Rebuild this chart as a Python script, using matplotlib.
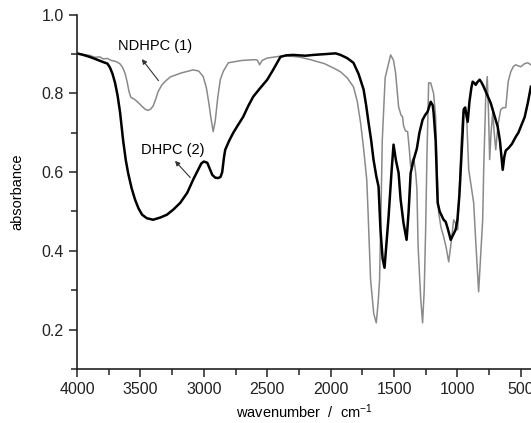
import numpy as np
import matplotlib
matplotlib.use("Agg")
import matplotlib.pyplot as plt
from matplotlib.ticker import MultipleLocator

plt.rcParams['font.family'] = ['Liberation Sans', 'DejaVu Sans']
plt.rcParams['mathtext.default'] = 'regular'

# NDHPC (1), grey trace
ndhpc_wn = [4000, 3950, 3900, 3860, 3820, 3795, 3760, 3730, 3700, 3680, 3660, 3640, 3620,
            3605, 3590, 3575, 3550, 3520, 3490, 3463, 3440, 3420, 3400, 3380, 3360, 3330,
            3300, 3265, 3180, 3120, 3084, 3040, 3005, 2980, 2960, 2945, 2926, 2910, 2890,
            2870, 2847, 2807, 2700, 2600, 2578, 2560, 2540, 2500, 2373, 2250, 2160, 2050,
            1960, 1922, 1870, 1820, 1790, 1764, 1740, 1715, 1705, 1685, 1660, 1640, 1625,
            1614, 1600, 1593, 1570, 1527, 1505, 1488, 1464, 1445, 1433, 1425, 1410, 1393,
            1380, 1369, 1355, 1345, 1330, 1320, 1310, 1290, 1275, 1262, 1251, 1240, 1227,
            1211, 1188, 1172, 1160, 1148, 1130, 1109, 1090, 1069, 1050, 1030, 1015, 998,
            985, 970, 959, 945, 935, 925, 911, 890, 872, 855, 833, 815, 801, 793, 777,
            765, 755, 746, 735, 722, 710, 698, 680, 659, 640, 619, 600, 580, 560, 540,
            520, 500, 470, 445, 421]
ndhpc_abs = [0.902, 0.899, 0.897, 0.892, 0.893, 0.888, 0.889, 0.884, 0.882, 0.879, 0.875, 0.866, 0.850,
             0.830, 0.805, 0.790, 0.786, 0.778, 0.768, 0.760, 0.757, 0.760, 0.768, 0.785, 0.805, 0.822,
             0.832, 0.842, 0.852, 0.857, 0.860, 0.857, 0.843, 0.815, 0.775, 0.740, 0.703, 0.730, 0.790,
             0.835, 0.856, 0.878, 0.884, 0.886, 0.885, 0.873, 0.884, 0.890, 0.896, 0.893, 0.886, 0.876,
             0.862, 0.855, 0.840, 0.817, 0.780, 0.726, 0.660, 0.580, 0.500, 0.327, 0.240, 0.217, 0.270,
             0.327, 0.550, 0.680, 0.840, 0.898, 0.885, 0.853, 0.766, 0.745, 0.741, 0.718, 0.705, 0.703,
             0.660, 0.614, 0.630, 0.637, 0.600, 0.560, 0.410, 0.280, 0.217, 0.300, 0.450, 0.650, 0.827,
             0.827, 0.800, 0.741, 0.600, 0.497, 0.460, 0.436, 0.410, 0.372, 0.420, 0.479, 0.470, 0.454,
             0.550, 0.680, 0.741, 0.764, 0.766, 0.720, 0.606, 0.560, 0.522, 0.420, 0.296, 0.400, 0.479, 0.606, 0.790,
             0.843, 0.750, 0.632, 0.700, 0.751, 0.700, 0.657, 0.720, 0.759, 0.764, 0.764, 0.830, 0.855, 0.868, 0.873,
             0.870, 0.868, 0.876, 0.878, 0.873]

# DHPC (2), black trace
dhpc_wn = [4000, 3950, 3900, 3850, 3795, 3760, 3740, 3720, 3700, 3680, 3660, 3636, 3615,
           3597, 3570, 3542, 3515, 3487, 3450, 3400, 3340, 3290, 3240, 3186, 3130, 3084,
           3050, 3020, 3000, 2973, 2955, 2933, 2910, 2886, 2868, 2855, 2840, 2831, 2800,
           2768, 2730, 2689, 2650, 2610, 2560, 2500, 2450, 2396, 2350, 2294, 2200, 2136,
           2050, 1960, 1922, 1870, 1820, 1780, 1740, 1720, 1701, 1680, 1662, 1640, 1622,
           1607, 1590, 1575, 1555, 1543, 1520, 1504, 1485, 1464, 1448, 1425, 1401, 1385,
           1369, 1345, 1320, 1300, 1275, 1255, 1235, 1211, 1195, 1188, 1172, 1156, 1140,
           1109, 1093, 1075, 1053, 1035, 1014, 1000, 985, 974, 959, 951, 940, 919, 905,
           890, 880, 865, 856, 840, 825, 810, 793, 770, 738, 710, 683, 665, 650, 643,
           630, 619, 595, 570, 540, 520, 500, 470, 445, 421]
dhpc_abs = [0.902, 0.898, 0.893, 0.887, 0.880, 0.876, 0.866, 0.850, 0.827, 0.795, 0.751, 0.680, 0.630,
            0.598, 0.560, 0.530, 0.508, 0.492, 0.483, 0.479, 0.485, 0.492, 0.505, 0.522, 0.548, 0.581,
            0.603, 0.622, 0.627, 0.624, 0.610, 0.593, 0.586, 0.585, 0.588, 0.600, 0.640, 0.657, 0.680,
            0.700, 0.720, 0.741, 0.768, 0.792, 0.812, 0.835, 0.862, 0.893, 0.897, 0.898, 0.896, 0.898,
            0.900, 0.902, 0.898, 0.890, 0.878, 0.850, 0.810, 0.770, 0.726, 0.680, 0.632, 0.590, 0.563,
            0.454, 0.380, 0.357, 0.440, 0.487, 0.600, 0.670, 0.630, 0.598, 0.530, 0.470, 0.428, 0.500,
            0.598, 0.632, 0.660, 0.700, 0.733, 0.745, 0.754, 0.779, 0.770, 0.751, 0.680, 0.522, 0.500,
            0.479, 0.474, 0.455, 0.428, 0.440, 0.454, 0.480, 0.540, 0.606, 0.700, 0.759, 0.764, 0.728, 0.780,
            0.815, 0.830, 0.826, 0.822, 0.830, 0.835, 0.828, 0.817, 0.800, 0.776, 0.745, 0.716, 0.680, 0.630, 0.606,
            0.640, 0.655, 0.662, 0.672, 0.690, 0.700, 0.716, 0.740, 0.776, 0.817]

fig = plt.figure(figsize=(5.31, 4.23), dpi=100)
ax = fig.add_axes([0.145, 0.128, 0.855, 0.837])

ax.plot(ndhpc_wn, ndhpc_abs, color='#8a8a8a', lw=1.1)
ax.plot(dhpc_wn, dhpc_abs, color='black', lw=1.8)

ax.set_xlim(4000, 420)
ax.set_ylim(0.1, 1.0)
ax.xaxis.set_major_locator(MultipleLocator(500))
ax.xaxis.set_minor_locator(MultipleLocator(250))
ax.yaxis.set_minor_locator(MultipleLocator(0.1))
ax.set_yticks([0.2, 0.4, 0.6, 0.8, 1.0])
ax.set_yticklabels(['0.2', '0.4', '0.6', '0.8', '1.0'])

for s in ['top', 'right']:
    ax.spines[s].set_visible(False)
for s in ['left', 'bottom']:
    ax.spines[s].set_linewidth(1.2)
    ax.spines[s].set_color('#222222')
ax.tick_params(which='major', direction='out', length=6, width=1.1, labelsize=11.5, colors='#222222')
ax.tick_params(which='minor', direction='out', length=4, width=1.1, colors='#222222')

ax.set_ylabel('absorbance', fontsize=10.5)
ax.yaxis.set_label_coords(-0.115, 0.5)
ax.set_xlabel(r'wavenumber  /  cm$^{-1}$', fontsize=10.5)

ax.annotate('', xy=(3502, 0.893), xytext=(3344, 0.827),
            arrowprops=dict(arrowstyle='-|>', color='#333333', lw=0.8, mutation_scale=7))
ax.text(3384, 0.921, 'NDHPC (1)', fontsize=10.5, ha='center', va='center')
ax.annotate('', xy=(3242, 0.634), xytext=(3092, 0.581),
            arrowprops=dict(arrowstyle='-|>', color='#333333', lw=0.8, mutation_scale=7))
ax.text(3242, 0.657, 'DHPC (2)', fontsize=10.5, ha='center', va='center')

fig.savefig('out.png', dpi=100)
